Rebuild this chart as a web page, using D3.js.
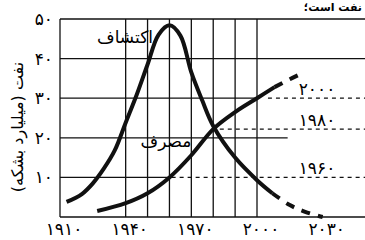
<!DOCTYPE html>
<html>
<head>
<meta charset="utf-8">
<script src="https://cdn.jsdelivr.net/npm/d3@7"></script>
<style>
  body { margin: 0; background: #fff; }
  svg { display: block; font-family: "DejaVu Sans", sans-serif; }
</style>
</head>
<body>
<svg id="chart" width="365" height="240"></svg>
<script>
// discovery (اکتشاف) and consumption (مصرف), billion barrels
const discYears = [1913, 1920, 1925, 1930, 1935, 1940, 1945, 1950, 1955, 1960, 1965, 1970, 1975, 1980, 1990, 2000, 2007];
const discValues = [3.8, 5.8, 8.5, 12.2, 16.8, 23.8, 30.8, 38.5, 46, 48.4, 45.8, 36.5, 29.4, 23, 15, 9.3, 6];
const discFcYears = [2007, 2015, 2022, 2030];
const discFcValues = [6, 3, 1.3, 0];

const consYears = [1927, 1940, 1950, 1960, 1970, 1980, 1990, 2000, 2008];
const consValues = [1.5, 3.5, 6, 10, 15.6, 22.2, 26.5, 30, 32.8];
const consFcYears = [2008, 2015, 2021];
const consFcValues = [32.8, 34.8, 36.4];

const refYears = [1960, 1980, 2000];
const refValues = [10, 22.2, 30];

const xTicks = [1910, 1940, 1970, 2000, 2030];
const yTicks = [10, 20, 30, 40, 50];
const gridYears = [1940, 1950, 1960, 1970, 1980, 1990, 2000];

const fa = n => String(n).replace(/\d/g, d => '۰۱۲۳۴۵۶۷۸۹'[d]);

const svg = d3.select('#chart');
const x = d3.scaleLinear().domain([1910, 2000]).range([60, 257]);
const y = d3.scaleLinear().domain([0, 50]).range([217, 19]);
const xEnd = 365;

// text of the page above, at the top edge
svg.append('text')
    .attr('x', 362).attr('y', 11)
    .attr('text-anchor', 'start')
    .attr('direction', 'rtl')
    .attr('font-size', 11)
    .attr('font-weight', 'bold')
    .text('نفت است؛');

const grid = svg.append('g').attr('stroke', '#111').attr('stroke-width', 1.3);

// vertical grid
grid.selectAll('line.v')
    .data(gridYears)
    .join('line')
    .attr('x1', d => x(d)).attr('x2', d => x(d))
    .attr('y1', y(50)).attr('y2', y(0));

// horizontal grid, solid parts
const solidTo = {10: 1960, 20: 2014, 30: 2000};
grid.selectAll('line.h')
    .data(yTicks)
    .join('line')
    .attr('x1', x(1910))
    .attr('x2', d => solidTo[d] ? x(solidTo[d]) : xEnd)
    .attr('y1', d => y(d)).attr('y2', d => y(d));

// frame
grid.append('line').attr('x1', x(1910)).attr('x2', x(1910)).attr('y1', y(50)).attr('y2', y(0));
grid.append('line').attr('x1', x(1910)).attr('x2', xEnd).attr('y1', y(0)).attr('y2', y(0));

// dashed reference lines from consumption levels
const refStart = [1961, 1983, 2005];
svg.append('g')
    .selectAll('line')
    .data(refYears)
    .join('line')
    .attr('x1', (d, i) => x(refStart[i]))
    .attr('x2', xEnd)
    .attr('y1', (d, i) => y(refValues[i]))
    .attr('y2', (d, i) => y(refValues[i]))
    .attr('stroke', '#111')
    .attr('stroke-width', 1.3)
    .attr('stroke-dasharray', '4,4');

svg.append('g')
    .selectAll('text')
    .data(refYears)
    .join('text')
    .attr('x', 317)
    .attr('y', (d, i) => y(refValues[i]) - 3)
    .attr('text-anchor', 'middle')
    .attr('font-size', 17)
    .text(d => fa(d));

// curves
const line = d3.line()
    .x(d => x(d[0]))
    .y(d => y(d[1]))
    .curve(d3.curveCatmullRom.alpha(0.5));

const curves = svg.append('g')
    .attr('fill', 'none')
    .attr('stroke', '#111')
    .attr('stroke-width', 4);

curves.append('path').attr('d', line(d3.zip(discYears, discValues)));
curves.append('path').attr('d', line(d3.zip(discFcYears, discFcValues))).attr('stroke-dasharray', '9,8');
curves.append('path').attr('d', line(d3.zip(consYears, consValues)));
curves.append('path').attr('d', line(d3.zip(consFcYears, consFcValues))).attr('stroke-dasharray', '9,8');

// curve labels
svg.append('text')
    .attr('x', 125).attr('y', 43)
    .attr('text-anchor', 'middle')
    .attr('direction', 'rtl')
    .attr('font-size', 17)
    .text('اکتشاف');
svg.append('text')
    .attr('x', 166).attr('y', 147)
    .attr('text-anchor', 'middle')
    .attr('direction', 'rtl')
    .attr('font-size', 17)
    .text('مصرف');

// axes labels
svg.append('g')
    .selectAll('text')
    .data(yTicks)
    .join('text')
    .attr('x', 53)
    .attr('y', d => y(d) + 6)
    .attr('text-anchor', 'end')
    .attr('font-size', 17)
    .text(d => fa(d));

svg.append('g')
    .selectAll('text')
    .data(xTicks)
    .join('text')
    .attr('x', d => x(d) + 4)
    .attr('y', 235)
    .attr('text-anchor', 'middle')
    .attr('font-size', 17)
    .text(d => fa(d));

svg.append('text')
    .attr('transform', 'translate(23,127) rotate(-90)')
    .attr('text-anchor', 'middle')
    .attr('direction', 'rtl')
    .attr('font-size', 16)
    .text('نفت (میلیارد بشکه)');
</script>
</body>
</html>
